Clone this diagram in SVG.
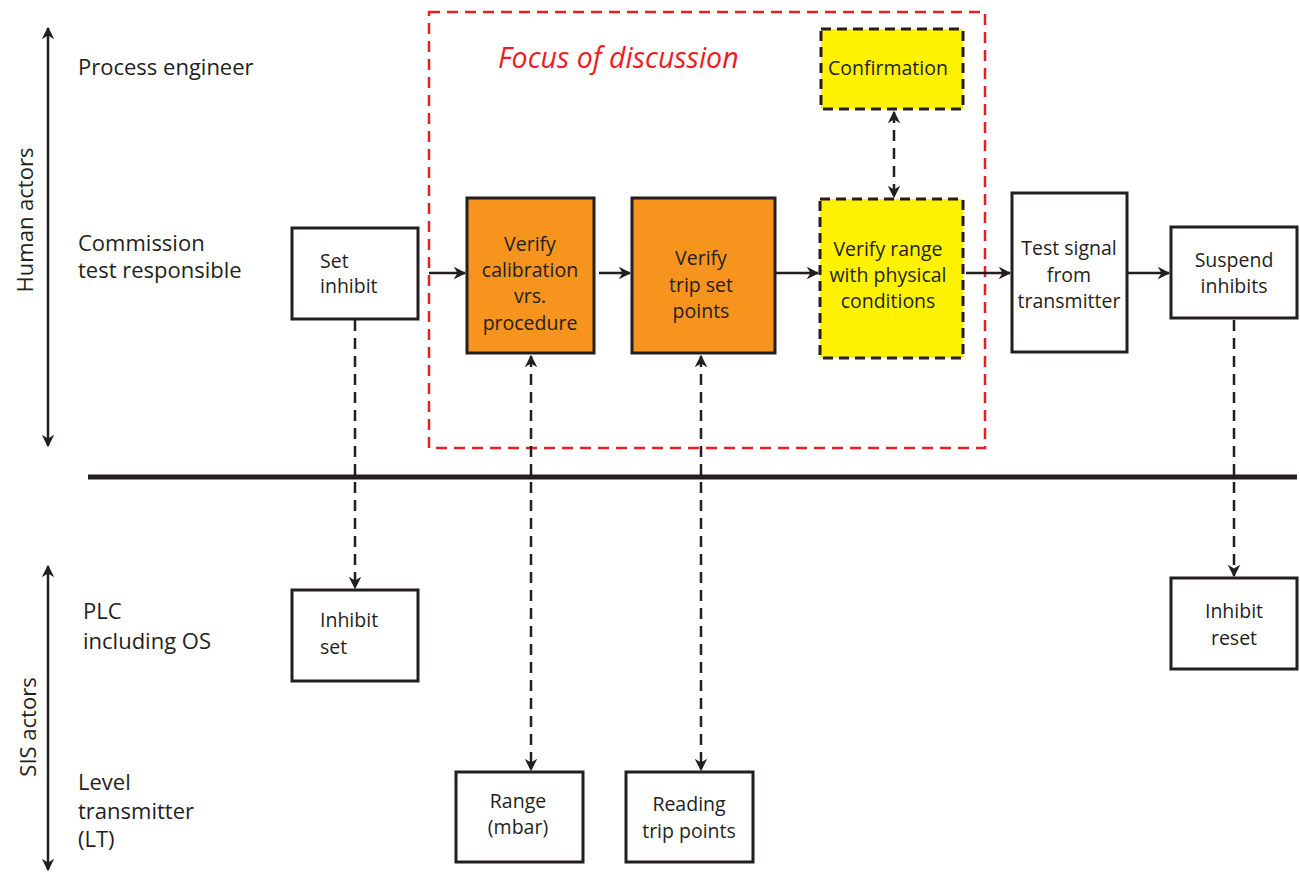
<svg xmlns="http://www.w3.org/2000/svg" width="1300" height="872" viewBox="0 0 1300 872">
  <style>
    text { font-family: "Open Sans", "Liberation Sans", sans-serif; fill: #231F20; }
    .lbl { font-size: 22px; }
    .nt { font-size: 19.5px; text-anchor: middle; }
    .nl { font-size: 19.5px; }
    .box { fill: #fff; stroke: #231F20; stroke-width: 3; }
    .orange { fill: #F7941E; stroke: #231F20; stroke-width: 3; }
    .yellow { fill: #FFF200; stroke: #231F20; stroke-width: 3; stroke-dasharray: 10 6; }
    .flow { stroke: #231F20; stroke-width: 2.5; fill: none; marker-end: url(#arr); }
    .dash { stroke: #231F20; stroke-width: 2.5; fill: none; stroke-dasharray: 11 7; }
    .axis { stroke: #231F20; stroke-width: 2.5; fill: none; marker-start: url(#arrS); marker-end: url(#arr); }
  </style>
  <defs>
    <marker id="arr" viewBox="0 0 10 10" refX="9" refY="5" markerWidth="5" markerHeight="5" markerUnits="strokeWidth" orient="auto">
      <path d="M0,0 L10,5 L0,10 L3,5 z" fill="#231F20"/>
    </marker>
    <marker id="arrS" viewBox="0 0 10 10" refX="1" refY="5" markerWidth="5" markerHeight="5" markerUnits="strokeWidth" orient="auto">
      <path d="M10,0 L0,5 L10,10 L7,5 z" fill="#231F20"/>
    </marker>
  </defs>

  <!-- actor axes and lane labels -->
  <g id="lanes">
    <line class="axis" x1="48" y1="28" x2="48" y2="446"/>
    <text class="lbl" transform="translate(33,220) rotate(-90)" text-anchor="middle">Human actors</text>
    <line class="axis" x1="48" y1="566" x2="48" y2="870"/>
    <text class="lbl" transform="translate(36,727) rotate(-90)" text-anchor="middle">SIS actors</text>
    <text class="lbl" x="78" y="75">Process engineer</text>
    <text class="lbl" x="78" y="251">Commission</text>
    <text class="lbl" x="78" y="278">test responsible</text>
    <text class="lbl" x="83" y="619">PLC</text>
    <text class="lbl" x="83" y="649">including OS</text>
    <text class="lbl" x="78" y="790">Level</text>
    <text class="lbl" x="78" y="819">transmitter</text>
    <text class="lbl" x="78" y="847">(LT)</text>
    <line x1="88" y1="477" x2="1297" y2="477" stroke="#231F20" stroke-width="5"/>
  </g>

  <!-- focus region -->
  <g id="focus">
    <rect x="429" y="12" width="556" height="436" fill="none" stroke="#ED1C24" stroke-width="2.5" stroke-dasharray="11 7"/>
    <text x="498" y="68" font-size="28.5" font-style="italic" style="fill:#ED1C24">Focus of discussion</text>
  </g>

  <!-- connectors -->
  <g id="connectors">
    <line class="flow" x1="429" y1="273" x2="465" y2="273"/>
    <line class="flow" x1="599" y1="273" x2="630" y2="273"/>
    <line class="flow" x1="776" y1="273" x2="818" y2="273"/>
    <line class="flow" x1="966" y1="273" x2="1010" y2="273"/>
    <line class="flow" x1="1128" y1="273" x2="1169" y2="273"/>
    <line class="dash" x1="355" y1="320" x2="355" y2="588" marker-end="url(#arr)"/>
    <line class="dash" x1="531" y1="356" x2="531" y2="770" marker-start="url(#arrS)" marker-end="url(#arr)"/>
    <line class="dash" x1="701" y1="356" x2="701" y2="770" marker-start="url(#arrS)" marker-end="url(#arr)"/>
    <line class="dash" x1="894" y1="112" x2="894" y2="197" marker-start="url(#arrS)" marker-end="url(#arr)"/>
    <line class="dash" x1="1234" y1="320" x2="1234" y2="576" marker-end="url(#arr)"/>
  </g>

  <g id="set-inhibit">
    <rect class="box" x="292" y="228" width="126" height="91"/>
    <text class="nl" x="320" y="268">Set</text>
    <text class="nl" x="320" y="293">inhibit</text>
  </g>
  <g id="verify-calibration">
    <rect class="orange" x="467" y="198" width="127" height="155"/>
    <text class="nt" x="530" y="251">Verify</text>
    <text class="nt" x="530" y="277">calibration</text>
    <text class="nt" x="530" y="303">vrs.</text>
    <text class="nt" x="530" y="330">procedure</text>
  </g>
  <g id="verify-trip">
    <rect class="orange" x="632" y="198" width="143" height="155"/>
    <text class="nt" x="701" y="265">Verify</text>
    <text class="nt" x="701" y="292">trip set</text>
    <text class="nt" x="701" y="318">points</text>
  </g>
  <g id="confirmation">
    <rect class="yellow" x="821" y="29" width="142" height="80"/>
    <text class="nt" x="888" y="75">Confirmation</text>
  </g>
  <g id="verify-range">
    <rect class="yellow" x="820" y="199" width="143" height="159"/>
    <text class="nt" x="888" y="256">Verify range</text>
    <text class="nt" x="888" y="282">with physical</text>
    <text class="nt" x="888" y="308">conditions</text>
  </g>
  <g id="test-signal">
    <rect class="box" x="1012" y="193" width="115" height="159"/>
    <text class="nt" x="1069" y="255">Test signal</text>
    <text class="nt" x="1069" y="282">from</text>
    <text class="nt" x="1069" y="308">transmitter</text>
  </g>
  <g id="suspend-inhibits">
    <rect class="box" x="1171" y="227" width="126" height="91"/>
    <text class="nt" x="1234" y="267">Suspend</text>
    <text class="nt" x="1234" y="293">inhibits</text>
  </g>
  <g id="inhibit-set">
    <rect class="box" x="292" y="590" width="126" height="91"/>
    <text class="nl" x="320" y="627">Inhibit</text>
    <text class="nl" x="320" y="654">set</text>
  </g>
  <g id="inhibit-reset">
    <rect class="box" x="1171" y="578" width="126" height="91"/>
    <text class="nt" x="1234" y="618">Inhibit</text>
    <text class="nt" x="1234" y="645">reset</text>
  </g>
  <g id="range">
    <rect class="box" x="456" y="772" width="127" height="90"/>
    <text class="nt" x="518" y="808">Range</text>
    <text class="nt" x="518" y="834">(mbar)</text>
  </g>
  <g id="reading">
    <rect class="box" x="626" y="772" width="127" height="90"/>
    <text class="nt" x="689" y="811">Reading</text>
    <text class="nt" x="689" y="838">trip points</text>
  </g>
</svg>
